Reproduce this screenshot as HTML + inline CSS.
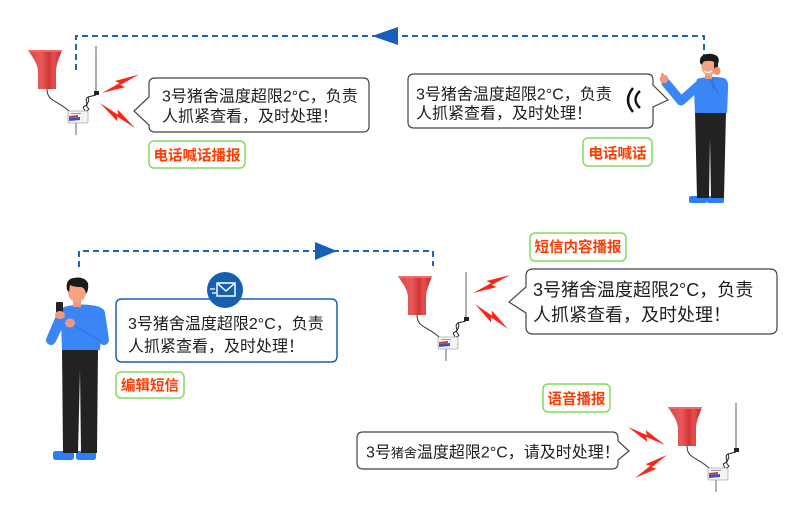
<!DOCTYPE html>
<html>
<head>
<meta charset="utf-8">
<style>
html,body{margin:0;padding:0;background:#fff;}
svg{display:block;}
text{font-family:"Liberation Sans","Noto Sans CJK SC",sans-serif;}
.t{font-size:16px;fill:#1e1e1e;}
.t18{font-size:18px;fill:#1e1e1e;}
.lb{font-size:14.5px;font-weight:bold;fill:#ff3c00;}
.lbox{fill:#fff;stroke:#82dc5e;stroke-width:1.5;}
.bub{fill:#fff;stroke:#444;stroke-width:1.2;}
.dash{fill:none;stroke:#1a66c0;stroke-width:2;stroke-dasharray:6 4;}
.bolt{fill:#ff2414;}
</style>
</head>
<body>
<svg width="800" height="505" viewBox="0 0 800 505" xmlns="http://www.w3.org/2000/svg">
<defs>
  <linearGradient id="hg" x1="0" x2="1" y1="0" y2="0">
    <stop offset="0" stop-color="#e04444"/>
    <stop offset="0.4" stop-color="#e85a5a"/>
    <stop offset="0.62" stop-color="#d23434"/>
    <stop offset="0.75" stop-color="#e65050"/>
    <stop offset="1" stop-color="#c02a2a"/>
  </linearGradient>
</defs>

<!-- ===== Dashed connectors ===== -->
<path class="dash" d="M76,70 V36 H704 V56"/>
<polygon points="372,36 398,27 398,45" fill="#1560b8"/>
<path class="dash" d="M79,267 V251 H433 V266"/>
<polygon points="337,251 315,242 315,260" fill="#1560b8"/>

<!-- ===== Device sets (horn + antenna + box) ===== -->
<g transform="translate(28,50)">
  <path d="M0,0 L34,0 C31,9 28,14 28,22 L28,39 L10,39 L10,22 C10,14 5,8 0,0 Z" fill="url(#hg)"/>
  <path d="M0,0 L34,0 L33.5,2 L0.8,2 Z" fill="#f06a6a"/>
  <path d="M19,39 C19,52 30,50 42,62" fill="none" stroke="#333" stroke-width="1"/>
  <line x1="68" y1="-4" x2="68" y2="44" stroke="#777" stroke-width="1.2"/>
  <rect x="66" y="41" width="5" height="4" fill="#222"/>
  <path d="M68,45 L60,47 C55,50 62,54 57,56 C52,58 60,60 55,62 M60,47 C63,52 56,55 60,58 C63,60 57,61 56,62" fill="none" stroke="#222" stroke-width="1"/>
  <rect x="40" y="61" width="20" height="12" rx="1.5" fill="#f4f4f4" stroke="#aaa" stroke-width="0.8"/>
  <path d="M41,68 L52,67 L52,70 L41,71 Z" fill="#3355cc"/>
  <path d="M41,66 L50,65 L50,67 L41,68 Z" fill="#e03030"/>
  <rect x="43" y="63" width="10" height="1" fill="#999"/>
  <line x1="48" y1="73" x2="48" y2="85" stroke="#999" stroke-width="1.5"/>
</g>
<g transform="translate(398,276)">
  <path d="M0,0 L34,0 C31,9 28,14 28,22 L28,39 L10,39 L10,22 C10,14 5,8 0,0 Z" fill="url(#hg)"/>
  <path d="M0,0 L34,0 L33.5,2 L0.8,2 Z" fill="#f06a6a"/>
  <path d="M19,39 C19,52 30,50 42,62" fill="none" stroke="#333" stroke-width="1"/>
  <line x1="68" y1="-4" x2="68" y2="44" stroke="#777" stroke-width="1.2"/>
  <rect x="66" y="41" width="5" height="4" fill="#222"/>
  <path d="M68,45 L60,47 C55,50 62,54 57,56 C52,58 60,60 55,62 M60,47 C63,52 56,55 60,58 C63,60 57,61 56,62" fill="none" stroke="#222" stroke-width="1"/>
  <rect x="40" y="61" width="20" height="12" rx="1.5" fill="#f4f4f4" stroke="#aaa" stroke-width="0.8"/>
  <path d="M41,68 L52,67 L52,70 L41,71 Z" fill="#3355cc"/>
  <path d="M41,66 L50,65 L50,67 L41,68 Z" fill="#e03030"/>
  <rect x="43" y="63" width="10" height="1" fill="#999"/>
  <line x1="48" y1="73" x2="48" y2="85" stroke="#999" stroke-width="1.5"/>
</g>
<g transform="translate(668,407)">
  <path d="M0,0 L34,0 C31,9 28,14 28,22 L28,39 L10,39 L10,22 C10,14 5,8 0,0 Z" fill="url(#hg)"/>
  <path d="M0,0 L34,0 L33.5,2 L0.8,2 Z" fill="#f06a6a"/>
  <path d="M19,39 C19,52 30,50 42,62" fill="none" stroke="#333" stroke-width="1"/>
  <line x1="68" y1="-4" x2="68" y2="44" stroke="#777" stroke-width="1.2"/>
  <rect x="66" y="41" width="5" height="4" fill="#222"/>
  <path d="M68,45 L60,47 C55,50 62,54 57,56 C52,58 60,60 55,62 M60,47 C63,52 56,55 60,58 C63,60 57,61 56,62" fill="none" stroke="#222" stroke-width="1"/>
  <rect x="40" y="61" width="20" height="12" rx="1.5" fill="#f4f4f4" stroke="#aaa" stroke-width="0.8"/>
  <path d="M41,68 L52,67 L52,70 L41,71 Z" fill="#3355cc"/>
  <path d="M41,66 L50,65 L50,67 L41,68 Z" fill="#e03030"/>
  <rect x="43" y="63" width="10" height="1" fill="#999"/>
  <line x1="48" y1="73" x2="48" y2="85" stroke="#999" stroke-width="1.5"/>
</g>

<!-- ===== Lightning bolts ===== -->
<polygon class="bolt" points="102,93 125.1,87.1 120.4,84.9 139,74.5 114.9,81 119.5,83.1"/>
<polygon class="bolt" points="100,103 117.4,121.5 116.9,116.3 135,128 117.6,109.4 118.1,114.7"/>
<polygon class="bolt" points="473,293 496.6,287.1 491.9,284.9 510,275 486.3,281 491.1,283.1"/>
<polygon class="bolt" points="475,304 491.1,322.5 490.9,317.3 508,329 491.9,310.5 492.1,315.7"/>
<polygon class="bolt" points="665,445 645.7,430.1 646.9,435.1 628,427 647.3,441.9 646.1,436.9"/>
<polygon class="bolt" points="667,455 645.5,464.3 650.4,465.7 635,478 656.5,468.7 651.6,467.3"/>

<!-- ===== Bubble 1 (top-left) ===== -->
<path class="bub" d="M155,78 H363 Q369,78 369,84 V126 Q369,132 363,132 H155 Q149,132 149,126 L149,125 L134,111 L149,97 V84 Q149,78 155,78 Z"/>
<text class="t" x="162" y="101.5">3号猪舍温度超限2°C，负责</text>
<text class="t" x="162" y="121.5">人抓紧查看，及时处理！</text>
<rect class="lbox" x="149" y="141" width="96" height="27" rx="5"/>
<text class="lb" x="197" y="160.5" text-anchor="middle">电话喊话播报</text>

<!-- ===== Bubble 2 (top-right) ===== -->
<path class="bub" d="M414,74 H647 Q653,74 653,80 V85 L668,100 L653,107 V122 Q653,128 647,128 H414 Q408,128 408,122 V80 Q408,74 414,74 Z"/>
<text class="t" x="416" y="99.5">3号猪舍温度超限2°C，负责</text>
<text class="t" x="416" y="118.5">人抓紧查看，及时处理！</text>
<path d="M633,88 Q623,100 633,112" fill="none" stroke="#111" stroke-width="2.5"/>
<path d="M640,91 Q631,99.5 640,108" fill="none" stroke="#111" stroke-width="2.4"/>
<rect class="lbox" x="583" y="138" width="69" height="28" rx="5"/>
<text class="lb" x="617.5" y="158.5" text-anchor="middle">电话喊话</text>

<!-- ===== Man with phone (top-right) ===== -->
<g>
  <rect x="689" y="196" width="18" height="7" rx="2" fill="#2e7cf6"/>
  <rect x="707" y="196" width="17" height="7" rx="2" fill="#2e7cf6"/>
  <path d="M695,111 L726,111 L724,198 L711,198 L710,138 L709,198 L697,198 Z" fill="#222"/>
  <polyline points="699,85 681,101 666,83" fill="none" stroke="#3a86f7" stroke-width="9" stroke-linejoin="round" stroke-linecap="round"/>
  <path d="M697,79 Q710,75 724,78 Q729,80 728,90 L727,113 L695,113 L694,90 Z" fill="#3a86f7"/>
  <path d="M709,78 L718,93 M713,78 L713,90" stroke="#2a6fd8" stroke-width="1" fill="none"/>
  <circle cx="664" cy="79" r="4.2" fill="#f0987a"/>
  <rect x="661" y="73" width="3" height="6" rx="1.5" fill="#f0987a"/>
  <rect x="705" y="72" width="7" height="7" fill="#f0987a"/>
  <ellipse cx="709" cy="67" rx="7.5" ry="8.5" fill="#f4a383"/>
  <path d="M700,63 Q699,55 707,54 Q714,53 718,57 Q720,62 717,65 Q714,60 708,61 Q703,60 702,65 Z" fill="#1a1a1a"/>
  <path d="M704,71 Q708,74 712,71" fill="none" stroke="#fff" stroke-width="1.2"/>
  <rect x="714" y="62" width="4" height="9" rx="1" fill="#222"/>
  <ellipse cx="717" cy="71" rx="3.5" ry="4" fill="#ee9272"/>
</g>

<!-- ===== Middle-left: SMS ===== -->
<path d="M122,299 H331 Q337,299 337,305 V356 Q337,362 331,362 H122 Q116,362 116,356 V305 Q116,299 122,299 Z" fill="#fff" stroke="#1a5fb4" stroke-width="1.5"/>
<circle cx="225" cy="290" r="18" fill="#1560b0"/>
<rect x="217" y="283" width="18" height="13" fill="none" stroke="#fff" stroke-width="1.5"/>
<path d="M217,283 L226,291 L235,283" fill="none" stroke="#fff" stroke-width="1.5"/>
<line x1="210" y1="289" x2="215" y2="289" stroke="#fff" stroke-width="1.3"/>
<line x1="212" y1="293" x2="216" y2="293" stroke="#fff" stroke-width="1.3"/>
<text class="t" x="128" y="329">3号猪舍温度超限2°C，负责</text>
<text class="t" x="128" y="351.5">人抓紧查看，及时处理！</text>
<rect class="lbox" x="116" y="372" width="68" height="26" rx="5"/>
<text class="lb" x="150" y="390.5" text-anchor="middle">编辑短信</text>

<!-- ===== Man texting (left) ===== -->
<g>
  <rect x="53" y="451" width="21" height="9" rx="2.5" fill="#2e7cf6"/>
  <rect x="76" y="451" width="20" height="9" rx="2.5" fill="#2e7cf6"/>
  <path d="M62,348 L98,348 L97,453 L81,453 L80,370 L78,453 L63,453 Z" fill="#222"/>
  <polyline points="64,313 51,340 61,317" fill="none" stroke="#3a86f7" stroke-width="10" stroke-linejoin="round" stroke-linecap="round"/>
  <path d="M64,307 Q82,302 100,307 Q103,310 102,320 L100,350 L62,350 L61,320 Q61,309 64,307 Z" fill="#3a86f7"/>
  <polyline points="100,313 104,340 72,323" fill="none" stroke="#3a86f7" stroke-width="10" stroke-linejoin="round" stroke-linecap="round"/>
  <path d="M102,342 L75,326" stroke="#2a6fd8" stroke-width="1" fill="none"/>
  <rect x="73" y="299" width="8" height="8" fill="#f0987a"/>
  <ellipse cx="77" cy="292" rx="9" ry="10" fill="#f4a383"/>
  <path d="M67,290 Q65,279 74,278 Q84,276 88,283 Q89,290 86,294 Q85,287 80,287 Q74,287 70,285 L69,292 Z" fill="#1a1a1a"/>
  <rect x="56" y="302" width="7" height="11" rx="1" fill="#222"/>
  <ellipse cx="60" cy="315" rx="5" ry="4" fill="#f0987a"/>
  <ellipse cx="70" cy="323" rx="5" ry="4.5" fill="#f0987a"/>
</g>

<!-- ===== Middle-right: SMS broadcast ===== -->
<rect class="lbox" x="530" y="233" width="96" height="28" rx="5"/>
<text class="lb" x="578" y="252" text-anchor="middle">短信内容播报</text>
<path class="bub" d="M533,269 H770 Q777,269 777,276 V327 Q777,334 770,334 H533 Q526,334 526,327 V313 L509,302 L526,287 V276 Q526,269 533,269 Z"/>
<text class="t18" x="533" y="296">3号猪舍温度超限2°C，负责</text>
<text class="t18" x="533" y="321">人抓紧查看，及时处理！</text>

<!-- ===== Bottom-right: voice broadcast ===== -->
<rect class="lbox" x="543" y="384" width="67" height="28" rx="5"/>
<text class="lb" x="576.5" y="404" text-anchor="middle">语音播报</text>
<path class="bub" d="M363,432 H612 Q618,432 618,438 V441 L629,451 L618,460 V463 Q618,469 612,469 H363 Q357,469 357,463 V438 Q357,432 363,432 Z"/>
<text class="t" x="366" y="457.5">3号<tspan font-size="13">猪舍</tspan>温度超限2°C，请及时处理！</text>

</svg>
</body>
</html>
